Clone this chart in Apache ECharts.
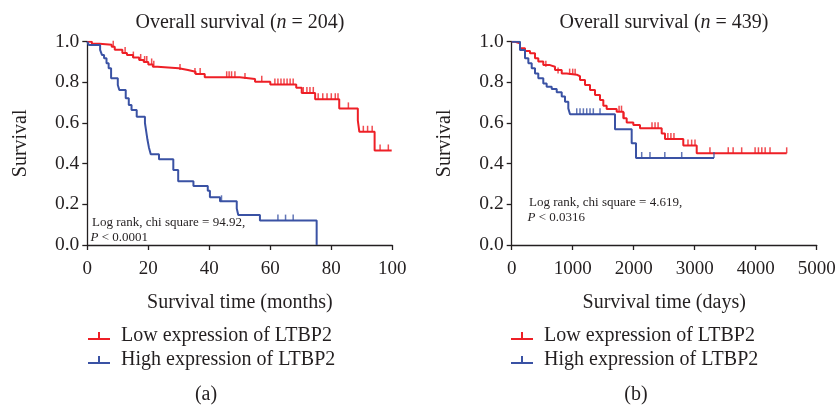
<!DOCTYPE html>
<html>
<head>
<meta charset="utf-8">
<script src="https://cdn.jsdelivr.net/npm/echarts@6/dist/echarts.min.js"></script>
<style>html,body{margin:0;padding:0;background:#fff}#c{width:839px;height:406px}</style>
</head>
<body>
<div id="c"></div>
<script>
// ---- Data ----
// Panel (a): months
var aLow = [[0,1],[1.5,0.99],[4,0.985],[8,0.975],[9,0.96],[11.5,0.945],[13,0.935],[15,0.922],[17,0.91],[18.5,0.9],[20,0.888],[21.5,0.877],[23,0.869],[30,0.861],[33,0.852],[35.5,0.841],[38.5,0.825],[50,0.817],[55,0.803],[60,0.79],[68.5,0.774],[70.3,0.748],[74.7,0.717],[82.6,0.672],[88.7,0.612],[89.2,0.557],[94.2,0.465],[99.8,0.465]];
var aHigh = [[0,1],[0.5,0.984],[4.2,0.96],[4.8,0.935],[5.5,0.918],[6.3,0.894],[7,0.869],[7.8,0.82],[10,0.787],[10.5,0.762],[12.6,0.722],[13.6,0.689],[14.5,0.664],[16.2,0.631],[18.9,0.6],[19.3,0.56],[19.7,0.52],[20.2,0.48],[20.8,0.446],[23.5,0.422],[28.2,0.369],[29.8,0.313],[34.8,0.29],[39.5,0.267],[40.2,0.235],[43.5,0.215],[49,0.18],[49.5,0.148],[56.6,0.12],[75.2,0]];
var aLowCens = [[8.5,0.975],[12.4,0.945],[15.1,0.922],[17.5,0.91],[18.8,0.9],[19.5,0.9],[21.1,0.888],[21.8,0.877],[30.4,0.861],[35.3,0.841],[37,0.841],[45.7,0.825],[46.5,0.825],[47.3,0.825],[48.4,0.825],[51.7,0.817],[57.2,0.803],[61.5,0.79],[62.5,0.79],[63.5,0.79],[64.5,0.79],[65.5,0.79],[66.5,0.79],[67.5,0.79],[70.8,0.748],[72,0.748],[73,0.748],[74.1,0.748],[75.7,0.717],[77.2,0.717],[78.6,0.717],[80,0.717],[81.3,0.717],[82.2,0.717],[85.6,0.672],[90.5,0.557],[91.9,0.557],[93.4,0.557],[96,0.465],[98.7,0.465]];
var aHighCens = [[44,0.215],[62.5,0.12],[65,0.12],[67.5,0.12]];
// Panel (b): days
var bLow = [[0,1],[54,0.992],[136,0.968],[218,0.954],[300,0.943],[382,0.918],[436,0.902],[518,0.885],[628,0.877],[710,0.861],[820,0.844],[902,0.838],[1066,0.83],[1120,0.812],[1202,0.787],[1284,0.762],[1366,0.738],[1448,0.713],[1502,0.685],[1557,0.669],[1721,0.656],[1830,0.623],[1885,0.603],[1994,0.59],[2103,0.574],[2459,0.549],[2513,0.521],[2813,0.489],[3033,0.451],[4508,0.451]];
var bHigh = [[0,1],[136,0.959],[218,0.918],[273,0.894],[328,0.869],[382,0.844],[436,0.82],[518,0.795],[573,0.779],[656,0.767],[738,0.751],[820,0.73],[874,0.705],[928,0.672],[956,0.643],[1693,0.569],[1967,0.5],[2038,0.428],[3316,0.428]];
var bLowCens = [[560,0.877],[760,0.844],[950,0.838],[1000,0.838],[1040,0.838],[1760,0.656],[1800,0.656],[1840,0.623],[2300,0.574],[2350,0.574],[2400,0.574],[2560,0.521],[2610,0.521],[2660,0.521],[2890,0.489],[2950,0.489],[3005,0.489],[3250,0.451],[3550,0.451],[3630,0.451],[3770,0.451],[3990,0.451],[4045,0.451],[4100,0.451],[4155,0.451],[4235,0.451],[4508,0.451]];
var bHighCens = [[1066,0.643],[1120,0.643],[1175,0.643],[1230,0.643],[1284,0.643],[1338,0.643],[1448,0.643],[2131,0.428],[2267,0.428],[2510,0.428],[2787,0.428],[3316,0.428]];
var seriesNames = ['Low expression of LTBP2', 'High expression of LTBP2'];
var titlesN = ['204', '439'];
var xNames = ['Survival time (months)', 'Survival time (days)'];
var yName = 'Survival';
var captions = ['(a)', '(b)'];
var annot = [['Log rank, chi square = 94.92,', '< 0.0001'], ['Log rank, chi square = 4.619,', '< 0.0316']];

// ---- Chart ----
var FONT = 'Liberation Serif';
var RED = '#ee1f26', BLUE = '#3a52a4', AX = '#231f20';
var chart = echarts.init(document.getElementById('c'), null, {renderer: 'canvas'});

function yAxis(i) {
  return {
    gridIndex: i, type: 'value', min: 0, max: 1, interval: 0.2,
    name: yName, nameLocation: 'middle', nameGap: 57, nameRotate: 90,
    nameTextStyle: {fontFamily: FONT, fontSize: 20, color: AX},
    axisLine: {show: true, lineStyle: {color: AX, width: 1.3}},
    axisTick: {show: true, inside: false, length: 5, lineStyle: {color: AX, width: 1.3}},
    axisLabel: {margin: 8, fontFamily: FONT, fontSize: 19.5, color: AX, formatter: function (v) { return v.toFixed(1); }},
    splitLine: {show: false}
  };
}
function xAxis(i, max, interval) {
  return {
    gridIndex: i, type: 'value', min: 0, max: max, interval: interval,
    name: xNames[i], nameLocation: 'middle', nameGap: 48,
    nameTextStyle: {fontFamily: FONT, fontSize: 20, color: AX},
    axisLine: {show: true, onZero: false, lineStyle: {color: AX, width: 1.3}},
    axisTick: {show: true, length: 5, lineStyle: {color: AX, width: 1.3}},
    axisLabel: {margin: 15, fontFamily: FONT, fontSize: 19, color: AX, formatter: function (v) { return String(v); }},
    splitLine: {show: false}
  };
}
function lineSeries(name, idx, data, color) {
  return {
    name: name, type: 'line', step: 'end', xAxisIndex: idx, yAxisIndex: idx,
    data: data, showSymbol: false, symbol: 'none',
    lineStyle: {color: color, width: 2}, itemStyle: {color: color}, z: 3
  };
}
function censSeries(name, idx, data, color) {
  return {
    name: name, type: 'scatter', xAxisIndex: idx, yAxisIndex: idx,
    data: data, symbol: 'rect', symbolSize: [1.5, 6], symbolOffset: [0, -3],
    itemStyle: {color: color}, z: 4, silent: true
  };
}
var legendIcon = 'path://M0,8 L22,8 L22,10.2 L0,10.2 Z M10,2 L12,2 L12,8 L10,8 Z';
function legend(left) {
  return {
    left: left, top: 321, orient: 'vertical', itemGap: 4,
    itemWidth: 22, itemHeight: 10, icon: legendIcon,
    data: seriesNames,
    textStyle: {fontFamily: FONT, fontSize: 20, color: AX, lineHeight: 20, padding: [0, 0, 0, 6]}
  };
}
function titleText(x, n) {
  return {
    type: 'text', x: x, y: 23,
    style: {
      text: '{a|Overall survival (}{i|n}{a| = ' + n + ')}',
      align: 'center', verticalAlign: 'middle',
      rich: {
        a: {fontFamily: FONT, fontSize: 20, fill: AX, color: AX},
        i: {fontFamily: FONT, fontSize: 20, fontStyle: 'italic', fill: AX, color: AX}
      }
    }
  };
}
function annText(x, y, lines) {
  return [{
    type: 'text', x: x, y: y,
    style: {text: lines[0], fontFamily: FONT, fontSize: 13, fill: AX, align: 'left', verticalAlign: 'middle'}
  }, {
    type: 'text', x: x - 1.5, y: y + 14.5,
    style: {
      text: '{i|P} {a|' + lines[1] + '}', align: 'left', verticalAlign: 'middle',
      rich: {
        a: {fontFamily: FONT, fontSize: 13, fill: AX, color: AX},
        i: {fontFamily: FONT, fontSize: 13, fontStyle: 'italic', fill: AX, color: AX}
      }
    }
  }];
}
function caption(x, t) {
  return {type: 'text', x: x, y: 395, style: {text: t, fontFamily: FONT, fontSize: 20, fill: AX, align: 'center', verticalAlign: 'middle'}};
}

var option = {
  animation: false,
  backgroundColor: '#fff',
  grid: [
    {left: 87.3, right: 446.7, top: 41.7, bottom: 161, containLabel: false},
    {left: 511.7, right: 22.3, top: 41.7, bottom: 161, containLabel: false}
  ],
  xAxis: [xAxis(0, 100, 20), xAxis(1, 5000, 1000)],
  yAxis: [yAxis(0), yAxis(1)],
  legend: [legend(83), legend(506)],
  series: [
    lineSeries(seriesNames[0], 0, aLow, RED),
    lineSeries(seriesNames[1], 0, aHigh, BLUE),
    censSeries('Low censored a', 0, aLowCens, RED),
    censSeries('High censored a', 0, aHighCens, BLUE),
    lineSeries(seriesNames[0], 1, bLow, RED),
    lineSeries(seriesNames[1], 1, bHigh, BLUE),
    censSeries('Low censored b', 1, bLowCens, RED),
    censSeries('High censored b', 1, bHighCens, BLUE)
  ],
  graphic: [titleText(240, titlesN[0]), titleText(664, titlesN[1]),
    caption(206, captions[0]), caption(636, captions[1])]
    .concat(annText(92, 223, annot[0]))
    .concat(annText(529, 203, annot[1]))
};
chart.setOption(option);
</script>
</body>
</html>
